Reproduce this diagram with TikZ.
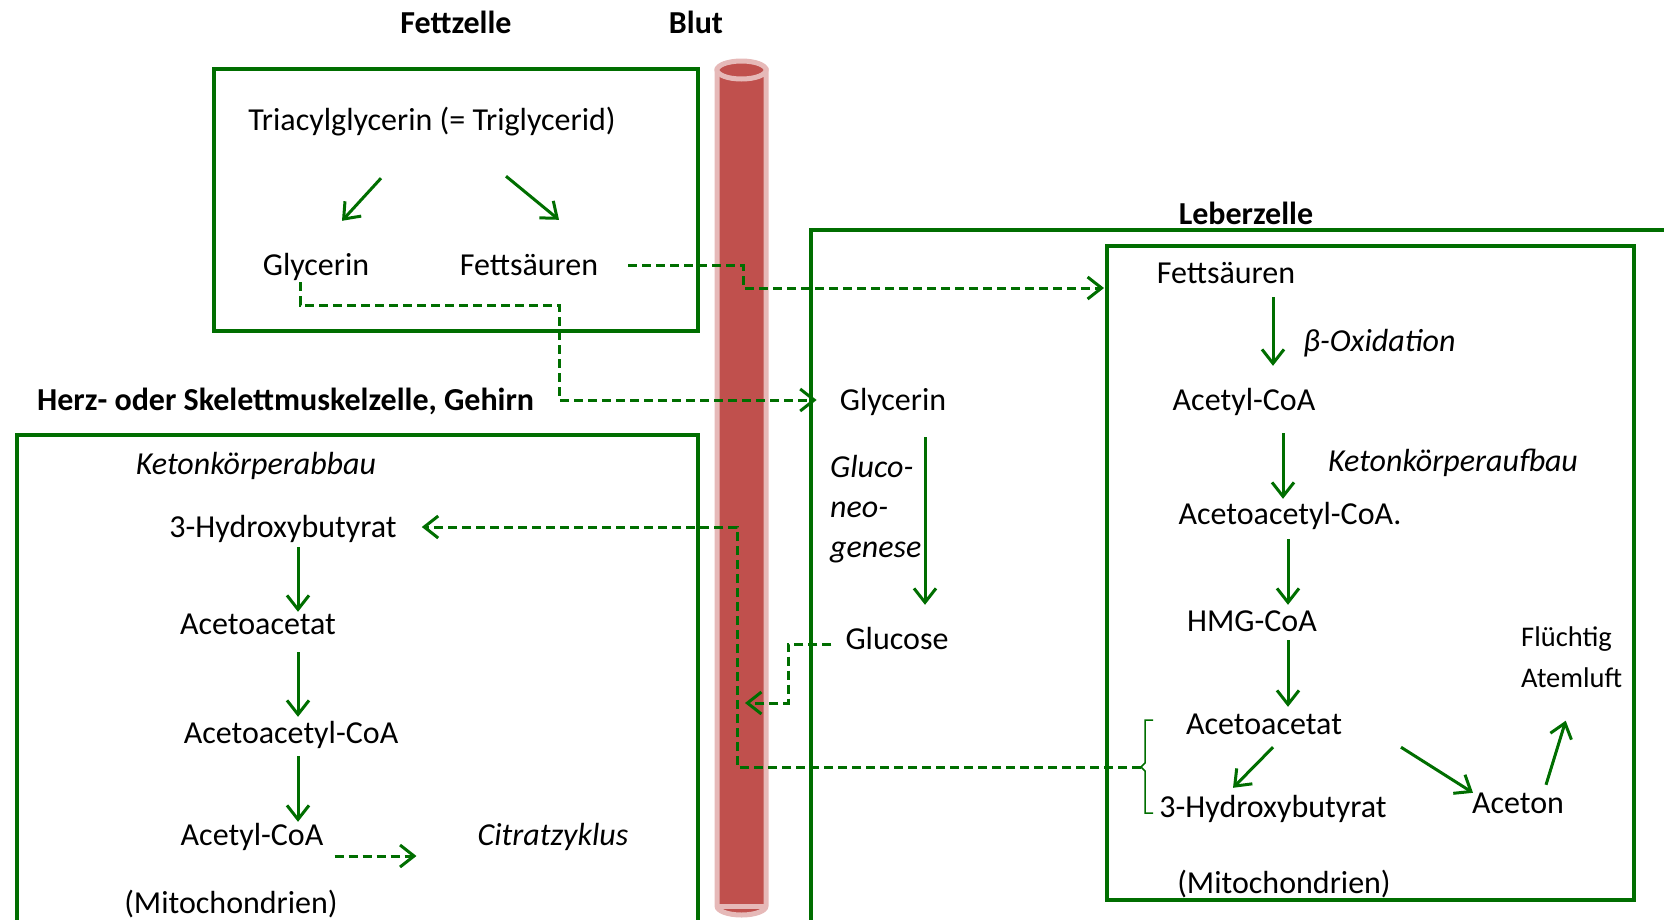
\documentclass[tikz,border=0pt]{standalone}
\usepackage{fontspec}
\setmainfont{Carlito}
\usetikzlibrary{arrows.meta}
\definecolor{zellgruen}{RGB}{0,110,0}
\definecolor{blutrot}{RGB}{192,80,77}
\definecolor{blutrand}{RGB}{230,185,184}
\begin{document}
\begin{tikzpicture}[x=1pt,y=-1pt]
        \tikzset{Stoff/.style={%
                font=\fontsize{32}{38}\selectfont,%
                inner sep=0pt,%
                text height=23pt,%
                text depth=3pt,%
            },
            Mehrzeilig/.style={%
                inner sep=0pt,%
                align=left,%
                anchor=west,%
            },
            Titel/.style={font=\fontsize{32}{38}\selectfont\bfseries, inner sep=0pt},
            Zelle/.style={draw=zellgruen, line width=4.5pt},
            Pfeil/.style={draw=zellgruen, line width=3pt, -{Straight Barb[length=14pt,width=22pt]}},
            Transport/.style={Pfeil, dash pattern=on 9pt off 5pt},
        }
        \useasboundingbox (0,0) rectangle (1664,919);
        \clip (0,0) rectangle (1664,919);

        % Blutgefaess
        \filldraw[fill=blutrot, draw=blutrand, line width=5pt] (717,70) -- (717,906)
            arc[start angle=180, end angle=0, x radius=24.5, y radius=9] -- (766,70) -- cycle;
        \draw[blutrand, line width=5pt] (717,906) -- (766,906);
        \filldraw[fill=blutrot, draw=blutrand, line width=5pt] (741.5,70) ellipse [x radius=24.5, y radius=9];

        % Zellen
        \draw[Zelle] (214,69) rectangle (698,331);
        \draw[Zelle] (811,230) rectangle (1700,960);
        \draw[Zelle] (1107,246) rectangle (1634,900);
        \draw[Zelle] (17,435) rectangle (698,960);

        \node[Titel] (fettT) at (456,22) {Fettzelle};
        \node[Titel] (blutT) at (696,22) {Blut};
        \node[Titel] (leberT) at (1246,213) {Leberzelle};
        \node[Titel, anchor=west] (muskelT) at (37,401) {Herz- oder Skelettmuskelzelle, Gehirn};

        % Fettzelle
        \node[Stoff] (tag) at (432,120) {Triacylglycerin (= Triglycerid)};
        \node[Stoff] (glyF) at (316,265) {Glycerin};
        \node[Stoff] (fsF) at (529,265) {Fettsäuren};

        % Leberzelle
        \node[Stoff] (glyL) at (893,400) {Glycerin};
        \node[Mehrzeilig, font=\fontsize{32}{40}\selectfont\itshape] (gng) at (830,509) {Gluco-\\neo-\\genese};
        \node[Stoff] (glc) at (897,639) {Glucose};
        \node[Stoff] (fsL) at (1226,273) {Fettsäuren};
        \node[Stoff, anchor=west] (betaox) at (1303,341) {\itshape β-Oxidation};
        \node[Stoff] (acL) at (1244,400) {Acetyl-CoA};
        \node[Stoff, anchor=west] (kaufbau) at (1328,461) {\itshape Ketonkörperaufbau};
        \node[Stoff] (accL) at (1290,514) {Acetoacetyl-CoA.};
        \node[Stoff] (hmg) at (1252,621) {HMG-CoA};
        \node[Stoff] (aaL) at (1264,724) {Acetoacetat};
        \node[Stoff] (hbL) at (1273,807) {3-Hydroxybutyrat};
        \node[Stoff] (aceton) at (1518,803) {Aceton};
        \node[Mehrzeilig, font=\fontsize{28.5}{41}\selectfont] (atem) at (1521,657) {Flüchtig\\Atemluft};
        \node[Stoff] (mitoL) at (1284,883) {(Mitochondrien)};

        % Muskelzelle
        \node[Stoff] (kabbau) at (256,464) {\itshape Ketonkörperabbau};
        \node[Stoff] (hbM) at (283,527) {3-Hydroxybutyrat};
        \node[Stoff] (aaM) at (258,624) {Acetoacetat};
        \node[Stoff] (accM) at (291,733) {Acetoacetyl-CoA};
        \node[Stoff] (acM) at (252,835) {Acetyl-CoA};
        \node[Stoff] (citrat) at (553,835) {\itshape Citratzyklus};
        \node[Stoff] (mitoM) at (231,903) {(Mitochondrien)};

        \coordinate (mito) at (1107,246);
        \coordinate (knickFs) at (743,288);
        \coordinate (knickGly) at (559,305);
        \coordinate (knickGlc) at (788,703);
        \coordinate (blutGlc) at (745,703);
        \coordinate (klammer) at (1141,767);
        \coordinate (knickHb) at (737,527);

        % Klammer
        \draw[zellgruen, line width=1.5pt] (1153,720) -- (1145,720) -- (1145,763) -- (klammer)
            -- (1145,771) -- (1145,813) -- (1153,813);

        % Reaktionen
        \draw[Pfeil] ([xshift=-51pt,yshift=-45pt]tag.south) -- ([xshift=26pt,yshift=31pt]glyF.north);
        \draw[Pfeil] ([xshift=74pt,yshift=-43pt]tag.south) -- ([xshift=30pt,yshift=32pt]fsF.north);
        \draw[Pfeil] ([xshift=32pt,yshift=-24pt]glyL.south) -- ([xshift=28pt,yshift=21pt]glc.north);
        \draw[Pfeil] ([xshift=47pt,yshift=-11pt]fsL.south) -- ([xshift=29pt,yshift=21pt]acL.north);
        \draw[Pfeil] ([xshift=39pt,yshift=-20pt]acL.south) -- ([xshift=-7pt,yshift=2pt]accL.north);
        \draw[Pfeil] ([xshift=-2pt,yshift=-12pt]accL.south) -- ([xshift=36pt,yshift=3pt]hmg.north);
        \draw[Pfeil] ([xshift=36pt,yshift=-6pt]hmg.south) -- ([xshift=24pt,yshift=4pt]aaL.north);
        \draw[Pfeil] ([xshift=9pt,yshift=-10pt]aaL.south) -- ([xshift=-40pt,yshift=6pt]hbL.north);
        \draw[Pfeil] ([xshift=137pt,yshift=-10pt]aaL.south) -- ([xshift=-45pt,yshift=-3pt]aceton.north);
        \draw[Pfeil] ([xshift=28pt,yshift=5pt]aceton.north) -- ([xshift=-6pt,yshift=-33pt]atem.south);
        \draw[Pfeil] ([xshift=15pt,yshift=-7pt]hbM.south) -- ([xshift=40pt,yshift=-1pt]aaM.north);
        \draw[Pfeil] ([xshift=40pt,yshift=-15pt]aaM.south) -- ([xshift=7pt,yshift=3pt]accM.north);
        \draw[Pfeil] ([xshift=7pt,yshift=-10pt]accM.south) -- ([xshift=46pt]acM.north);

        % Transport ueber das Blut
        \draw[Transport] ([xshift=30pt]fsF.east) -| (knickFs) -- ([xshift=-3pt]knickFs -| mito);
        \draw[Transport] ([xshift=-16pt,yshift=-4pt]glyF.south) |- (knickGly) |- ([xshift=-23pt]glyL.west);
        \draw[Transport] ([xshift=-14pt,yshift=-5pt]glc.west) -| (knickGlc) -- (blutGlc);
        \draw[Transport] (klammer) -| (knickHb) -- ([xshift=25pt]hbM.east);
        \draw[Transport] ([xshift=11pt,yshift=-21pt]acM.east) -- ([xshift=-61pt,yshift=-21pt]citrat.west);
\end{tikzpicture}
\end{document}
